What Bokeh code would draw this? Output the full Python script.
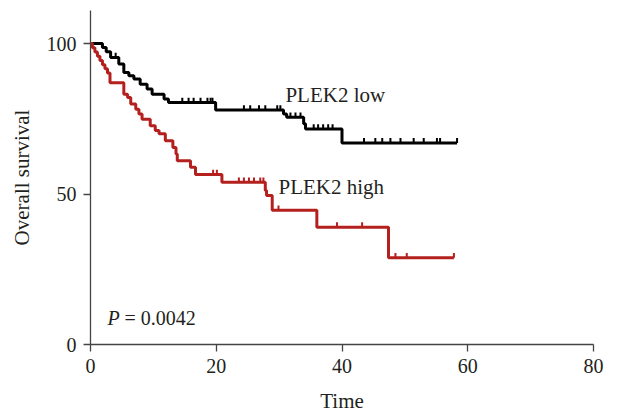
import numpy as np
from bokeh.plotting import figure
from bokeh.models import Range1d, FixedTicker, Label
from bokeh.embed import file_html
from bokeh.resources import INLINE

# ---- data ----
low_times = [0, 1.9, 2.5, 3.2, 4.5, 5.3, 6.1, 6.9, 7.9, 9.0, 9.8, 11.7, 12.4,
             19.9, 30.7, 31.2, 33.9, 34.2, 40.0]
low_surv = [100, 98.7, 97.3, 95.4, 93.2, 90.4, 89.3, 88.2, 86.5, 84.9, 83.2, 81.6, 80.4,
            77.9, 76.6, 75.5, 73.4, 71.6, 67.0]
low_end = 58.3
low_censor = [4.0, 14.6, 15.6, 16.4, 17.5, 18.6, 19.1, 19.4, 24.4, 25.4, 26.8, 27.8, 29.7,
              30.2, 31.8, 32.6, 33.4, 35.5, 36.2, 37.0, 37.8, 38.5, 43.5, 45.3, 46.4,
              47.7, 49.3, 51.4, 53.0, 55.1, 55.6, 58.3]

high_times = [0, 0.3, 0.7, 1.1, 1.5, 1.9, 2.3, 2.7, 3.1, 5.3, 5.9, 6.4, 7.2, 7.7, 8.2,
              9.5, 10.3, 10.9, 11.9, 13.1, 13.6, 13.8, 15.9, 16.7, 20.9, 27.8, 28.0,
              28.9, 36.0, 47.4]
high_surv = [100, 98.6, 97.2, 95.8, 94.4, 93.0, 91.6, 90.2, 87.0, 83.2, 82.1, 79.9, 78.2,
             76.6, 74.9, 72.7, 71.1, 70.0, 67.7, 65.5, 63.3, 61.1, 58.9, 56.5, 53.9, 51.2,
             49.5, 44.6, 39.0, 28.8]
high_end = 57.8
high_censor = [19.5, 20.1, 23.6, 24.4, 25.2, 26.0, 27.0, 27.5, 29.9, 39.2, 43.2, 48.5,
               50.3, 57.8]

x_ticks = [0, 20, 40, 60, 80]
y_ticks = [0, 50, 100]

FONT = "Liberation Serif"
TXT = "#231f20"
AX = "#444444"
BLACK = "#000000"
RED = "#b3201e"

p = figure(width=618, height=415, output_backend="svg", toolbar_location=None,
           x_range=Range1d(0, 80), y_range=Range1d(0, 111),
           min_border_left=90, min_border_right=25, min_border_top=10,
           min_border_bottom=70)
p.outline_line_color = None
p.grid.visible = False
p.background_fill_color = "white"
p.border_fill_color = "white"

for ax, ticks in ((p.xaxis, x_ticks), (p.yaxis, y_ticks)):
    ax.ticker = FixedTicker(ticks=ticks)
    ax.minor_tick_line_color = None
    ax.major_tick_in = 0
    ax.major_tick_out = 7
    ax.axis_line_color = AX
    ax.axis_line_width = 1.3
    ax.major_tick_line_color = AX
    ax.major_tick_line_width = 1.3
    ax.major_label_text_font = FONT
    ax.major_label_text_font_size = "20px"
    ax.major_label_text_color = TXT
    ax.axis_label_text_font = FONT
    ax.axis_label_text_font_size = "21px"
    ax.axis_label_text_font_style = "normal"
    ax.axis_label_text_color = TXT

p.xaxis.axis_label = "Time"
p.yaxis.axis_label = "Overall survival"
p.xaxis.major_label_standoff = 7
p.yaxis.major_label_standoff = 7
p.xaxis.axis_label_standoff = 13
p.yaxis.axis_label_standoff = 10


def draw(times, surv, end, censor, color):
    xs = list(times) + [end]
    ys = list(surv) + [surv[-1]]
    p.step(x=xs, y=ys, mode="after", line_color=color, line_width=3)
    t = np.array(times)
    s = np.array(surv)
    c = np.array(censor)
    idx = np.searchsorted(t, c, side="right") - 1
    lvl = s[idx]
    p.segment(x0=c, y0=lvl, x1=c, y1=lvl + 1.6, line_color=color, line_width=2)


draw(low_times, low_surv, low_end, low_censor, BLACK)
draw(high_times, high_surv, high_end, high_censor, RED)

p.add_layout(Label(x=31.0, y=82.8, text="PLEK2 low", text_font=FONT,
                   text_font_size="21px", text_color=TXT, text_baseline="middle"))
p.add_layout(Label(x=29.9, y=52.3, text="PLEK2 high", text_font=FONT,
                   text_font_size="21px", text_color=TXT, text_baseline="middle"))
p.add_layout(Label(x=2.7, y=8.9, text="P", text_font=FONT, text_font_style="italic",
                   text_font_size="20px", text_color=TXT, text_baseline="middle"))
p.add_layout(Label(x=5.4, y=8.9, text="= 0.0042", text_font=FONT,
                   text_font_size="20px", text_color=TXT, text_baseline="middle"))

open("out.html", "w").write(file_html(p, INLINE))
